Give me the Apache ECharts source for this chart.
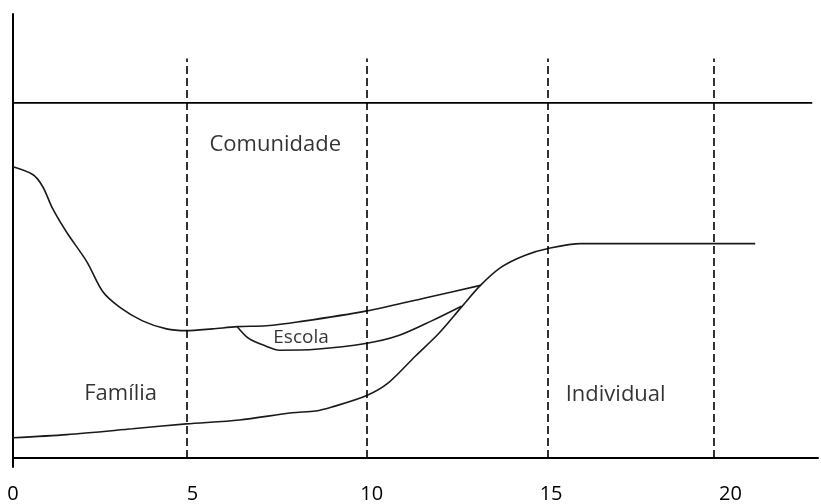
<!DOCTYPE html>
<html>
<head>
<meta charset="utf-8">
<script src="https://cdn.jsdelivr.net/npm/echarts@6/dist/echarts.min.js"></script>
<style>html,body{margin:0;padding:0;background:#fff}#c{width:821px;height:504px}</style>
</head>
<body>
<div id="c"></div>
<script>
// x values (age), y values (relative influence)
const upperCurve = [[0,65.6],[0.56,63.8],[0.83,61.1],[1.11,56.1],[1.5,50.8],[2.06,44.2],[2.5,37.5],[2.97,34.0],[3.61,30.9],[4.28,29.1],[4.83,28.7],[5.56,29.1],[6.25,29.6],[7.06,29.8],[7.97,30.7],[9.83,33.1],[11.67,36.4],[13.03,38.9]];
const individualCurve = [[0,4.6],[1.5,5.3],[3.33,6.6],[4.83,7.7],[6.31,8.6],[7.78,10.2],[8.44,10.6],[8.89,11.5],[9.86,14.1],[10.47,17.0],[11.22,23.0],[11.86,28.0],[12.5,34.0],[13.03,38.9],[13.61,43.0],[14.28,45.7],[14.92,47.2],[15.83,48.3],[20.69,48.3]];
const escolaCurve = [[6.25,29.6],[6.58,26.9],[7.06,25.2],[7.42,24.3],[8.44,24.5],[9.83,25.8],[10.75,27.6],[11.67,30.9],[12.5,34.2]];
const communityLine = [[0,80],[22.28,80]];
const boundaries = [4.83, 9.86, 14.92, 19.53];
const xTicks = [0, 5, 10, 15, 20];
const regionLabels = [[7.31,70.6,'Comunidade'],[3.0,14.6,'Família'],[8.03,27.2,'Escola'],[16.8,14.3,'Individual']];

const font = '"Open Sans", "Noto Sans", sans-serif';
const lineStyle = {color:'#1a1a1a', width:1.6};
const chart = echarts.init(document.getElementById('c'), null, {renderer:'canvas'});
const curve = (d) => ({type:'line', data:d, smooth:0.3, showSymbol:false, symbol:'none', lineStyle:lineStyle, silent:true, animation:false});
chart.setOption({
  animation:false,
  grid:{left:13, right:0, top:14, bottom:28, containLabel:false},
  xAxis:{type:'value', min:0, max:22.44, interval:5,
    axisLine:{show:true, onZero:true, lineStyle:{color:'#000', width:2}},
    axisTick:{show:false}, splitLine:{show:false},
    axisLabel:{margin:17, fontFamily:font, fontSize:20, color:'#000',
      formatter:(v)=> xTicks.includes(Math.round(v*100)/100) ? String(v) : ''}},
  yAxis:{type:'value', min:-2, max:100,
    axisLine:{show:true, lineStyle:{color:'#000', width:2}},
    axisTick:{show:false}, axisLabel:{show:false}, splitLine:{show:false}},
  series:[
    Object.assign(curve(communityLine), {smooth:false, lineStyle:{color:'#000', width:1.8},
      markLine:{silent:true, symbol:'none', label:{show:false},
        lineStyle:{color:'#000', width:1.6, type:[8,4]},
        data: boundaries.map(b => [{coord:[b,0]},{coord:[b,90]}])}}),
    curve(upperCurve),
    curve(individualCurve),
    curve(escolaCurve),
    {type:'scatter', symbolSize:0, silent:true,
      data: regionLabels.map(r => ({value:[r[0],r[1]], name:r[2],
        label:{fontSize: r[2]==='Escola'?19:22}})),
      label:{show:true, position:'inside', formatter:(p)=>p.name, fontFamily:font, color:'#000', textBorderWidth:0}}
  ]
});
</script>
</body>
</html>
